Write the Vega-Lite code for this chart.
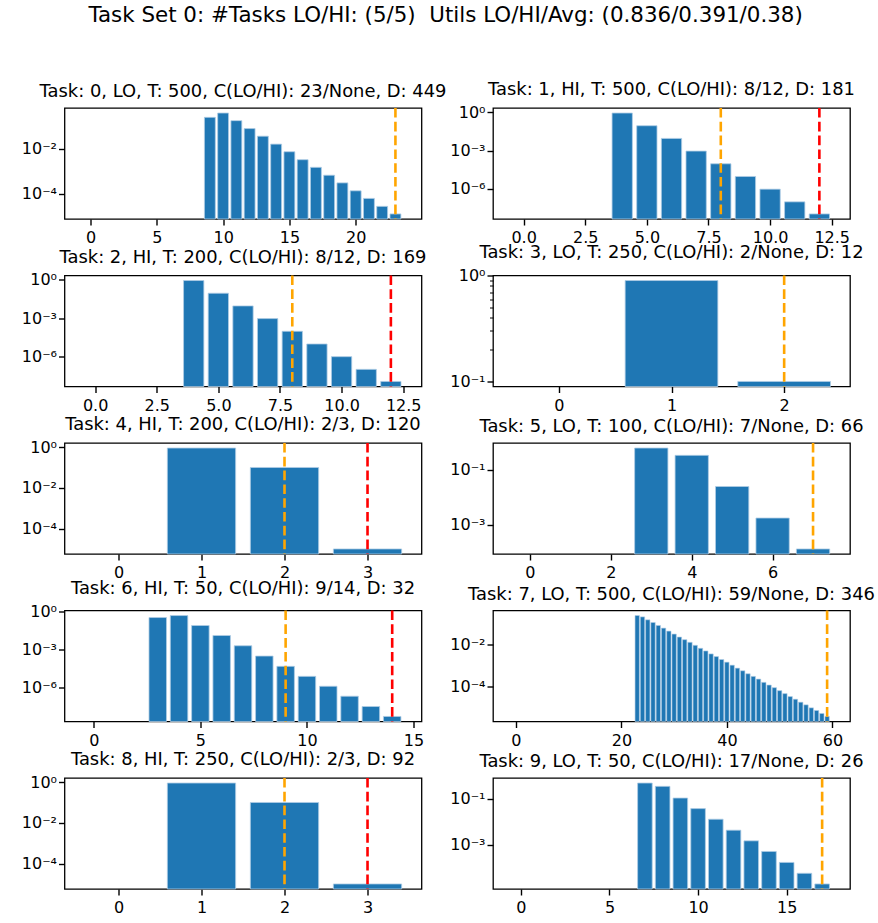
{
  "$schema": "https://vega.github.io/schema/vega-lite/v6.json",
  "padding": {"left": 20.5, "right": 2, "top": 5, "bottom": 5},
  "title": {"text": "Task Set 0: #Tasks LO/HI: (5/5)\u00a0 Utils LO/HI/Avg: (0.836/0.391/0.38)", "fontSize": 21.4, "anchor": "middle", "dx": -2.5, "offset": 37, "baseline": "alphabetic"},
  "columns": 2,
  "bounds": "flush",
  "spacing": {"row": 56.5, "column": 71.5},
  "concat": [
    {
      "title": "Task: 0, LO, T: 500, C(LO/HI): 23/None, D: 449",
      "width": 357, "height": 111,
      "layer": [
        {"data": {"values": [
          {"t": 9, "p": 0.249}, {"t": 10, "p": 0.387}, {"t": 11, "p": 0.178}, {"t": 12, "p": 0.0789}, {"t": 13, "p": 0.0362},
          {"t": 14, "p": 0.0161}, {"t": 15, "p": 0.00738}, {"t": 16, "p": 0.00327}, {"t": 17, "p": 0.0015}, {"t": 18, "p": 0.000667},
          {"t": 19, "p": 0.000305}, {"t": 20, "p": 0.0001355}, {"t": 21, "p": 6.22e-5}, {"t": 22, "p": 2.76e-5}, {"t": 23, "p": 1.27e-5}]},
         "mark": {"type": "bar", "orient": "vertical", "width": 10.9, "color": "#1f77b4", "stroke": "#b0cde5", "strokeWidth": 0.8},
         "encoding": {
           "x": {"field": "t", "type": "quantitative", "scale": {"domain": [-1.59, 24.59], "nice": false, "zero": false}, "axis": {"values": [0, 5, 10, 15, 20], "format": "d", "title": null}},
           "y": {"field": "p", "type": "quantitative", "stack": null, "scale": {"type": "log", "domain": [7.57e-6, 0.6486], "nice": false}, "axis": {"values": [0.01, 0.0001], "title": null, "labelExpr": "datum.value == 1 ? '10⁰' : datum.value == 0.1 ? '10⁻¹' : datum.value == 0.01 ? '10⁻²' : datum.value == 0.001 ? '10⁻³' : datum.value == 0.0001 ? '10⁻⁴' : datum.value == 0.000001 ? '10⁻⁶' : ''"}},
           "y2": {"datum": 7.57e-6}
         }},
        {"data": {"values": [{"c": 23, "level": "LO"}]},
         "mark": {"type": "rule", "strokeDash": [9.6, 4.2], "strokeWidth": 2.6},
         "encoding": {"x": {"field": "c", "type": "quantitative"}, "color": {"field": "level", "type": "nominal", "scale": {"domain": ["LO", "HI"], "range": ["#FFA500", "#FF0000"]}, "legend": null}}}
      ]
    },
    {
      "title": "Task: 1, HI, T: 500, C(LO/HI): 8/12, D: 181",
      "width": 357, "height": 111,
      "layer": [
        {"data": {"values": [
          {"t": 4, "p": 0.9}, {"t": 5, "p": 0.09}, {"t": 6, "p": 0.009}, {"t": 7, "p": 0.0009}, {"t": 8, "p": 9e-5},
          {"t": 9, "p": 9e-6}, {"t": 10, "p": 9e-7}, {"t": 11, "p": 9e-8}, {"t": 12, "p": 1e-8}]},
         "mark": {"type": "bar", "orient": "vertical", "width": 20.3, "color": "#1f77b4", "stroke": "#b0cde5", "strokeWidth": 0.8},
         "encoding": {
           "x": {"field": "t", "type": "quantitative", "scale": {"domain": [-1.04, 13.04], "nice": false, "zero": false}, "axis": {"values": [0, 2.5, 5, 7.5, 10, 12.5], "format": ".1f", "title": null}},
           "y": {"field": "p", "type": "quantitative", "stack": null, "scale": {"type": "log", "domain": [4.0e-9, 2.249], "nice": false}, "axis": {"values": [1, 0.001, 0.000001], "title": null, "labelExpr": "datum.value == 1 ? '10⁰' : datum.value == 0.1 ? '10⁻¹' : datum.value == 0.01 ? '10⁻²' : datum.value == 0.001 ? '10⁻³' : datum.value == 0.0001 ? '10⁻⁴' : datum.value == 0.000001 ? '10⁻⁶' : ''"}},
           "y2": {"datum": 4.0e-9}
         }},
        {"data": {"values": [{"c": 8, "level": "LO"}, {"c": 12, "level": "HI"}]},
         "mark": {"type": "rule", "strokeDash": [9.6, 4.2], "strokeWidth": 2.6},
         "encoding": {"x": {"field": "c", "type": "quantitative"}, "color": {"field": "level", "type": "nominal", "scale": {"domain": ["LO", "HI"], "range": ["#FFA500", "#FF0000"]}, "legend": null}}}
      ]
    },
    {
      "title": "Task: 2, HI, T: 200, C(LO/HI): 8/12, D: 169",
      "width": 357, "height": 111,
      "layer": [
        {"data": {"values": [
          {"t": 4, "p": 0.9}, {"t": 5, "p": 0.09}, {"t": 6, "p": 0.009}, {"t": 7, "p": 0.0009}, {"t": 8, "p": 9e-5},
          {"t": 9, "p": 9e-6}, {"t": 10, "p": 9e-7}, {"t": 11, "p": 9e-8}, {"t": 12, "p": 1e-8}]},
         "mark": {"type": "bar", "orient": "vertical", "width": 20.3, "color": "#1f77b4", "stroke": "#b0cde5", "strokeWidth": 0.8},
         "encoding": {
           "x": {"field": "t", "type": "quantitative", "scale": {"domain": [-1.04, 13.04], "nice": false, "zero": false}, "axis": {"values": [0, 2.5, 5, 7.5, 10, 12.5], "format": ".1f", "title": null}},
           "y": {"field": "p", "type": "quantitative", "stack": null, "scale": {"type": "log", "domain": [4.0e-9, 2.249], "nice": false}, "axis": {"values": [1, 0.001, 0.000001], "title": null, "labelExpr": "datum.value == 1 ? '10⁰' : datum.value == 0.1 ? '10⁻¹' : datum.value == 0.01 ? '10⁻²' : datum.value == 0.001 ? '10⁻³' : datum.value == 0.0001 ? '10⁻⁴' : datum.value == 0.000001 ? '10⁻⁶' : ''"}},
           "y2": {"datum": 4.0e-9}
         }},
        {"data": {"values": [{"c": 8, "level": "LO"}, {"c": 12, "level": "HI"}]},
         "mark": {"type": "rule", "strokeDash": [9.6, 4.2], "strokeWidth": 2.6},
         "encoding": {"x": {"field": "c", "type": "quantitative"}, "color": {"field": "level", "type": "nominal", "scale": {"domain": ["LO", "HI"], "range": ["#FFA500", "#FF0000"]}, "legend": null}}}
      ]
    },
    {
      "title": "Task: 3, LO, T: 250, C(LO/HI): 2/None, D: 12",
      "width": 357, "height": 111,
      "layer": [
        {"data": {"values": [{"t": 1, "p": 0.9}, {"t": 2, "p": 0.1}]},
         "mark": {"type": "bar", "orient": "vertical", "width": 92.7, "color": "#1f77b4", "stroke": "#b0cde5", "strokeWidth": 0.8},
         "encoding": {
           "x": {"field": "t", "type": "quantitative", "scale": {"domain": [-0.54, 2.54], "nice": false, "zero": false}, "axis": {"values": [0, 1, 2], "format": "d", "title": null}},
           "y": {"field": "p", "type": "quantitative", "stack": null, "scale": {"type": "log", "domain": [0.0896, 1.0044], "nice": false}, "axis": {"values": [0.1, 0.2, 0.3, 0.4, 0.5, 0.6, 0.7, 0.8, 0.9, 1], "title": null,
             "tickSize": {"condition": {"test": "datum.value == 1 || datum.value == 0.1", "value": 6}, "value": 3.5},
             "tickWidth": {"condition": {"test": "datum.value == 1 || datum.value == 0.1", "value": 1.4}, "value": 1},
             "labelExpr": "datum.value == 1 ? '10⁰' : datum.value == 0.1 ? '10⁻¹' : ''"}},
           "y2": {"datum": 0.0896}
         }},
        {"data": {"values": [{"c": 2, "level": "LO"}]},
         "mark": {"type": "rule", "strokeDash": [9.6, 4.2], "strokeWidth": 2.6},
         "encoding": {"x": {"field": "c", "type": "quantitative"}, "color": {"field": "level", "type": "nominal", "scale": {"domain": ["LO", "HI"], "range": ["#FFA500", "#FF0000"]}, "legend": null}}}
      ]
    },
    {
      "title": "Task: 4, HI, T: 200, C(LO/HI): 2/3, D: 120",
      "width": 357, "height": 111,
      "layer": [
        {"data": {"values": [{"t": 1, "p": 0.9}, {"t": 2, "p": 0.09999}, {"t": 3, "p": 1e-5}]},
         "mark": {"type": "bar", "orient": "vertical", "width": 68.3, "color": "#1f77b4", "stroke": "#b0cde5", "strokeWidth": 0.8},
         "encoding": {
           "x": {"field": "t", "type": "quantitative", "scale": {"domain": [-0.59, 3.59], "nice": false, "zero": false}, "axis": {"values": [0, 1, 2, 3], "format": "d", "title": null}},
           "y": {"field": "p", "type": "quantitative", "stack": null, "scale": {"type": "log", "domain": [5.654e-6, 1.592], "nice": false}, "axis": {"values": [1, 0.01, 0.0001], "title": null, "labelExpr": "datum.value == 1 ? '10⁰' : datum.value == 0.1 ? '10⁻¹' : datum.value == 0.01 ? '10⁻²' : datum.value == 0.001 ? '10⁻³' : datum.value == 0.0001 ? '10⁻⁴' : datum.value == 0.000001 ? '10⁻⁶' : ''"}},
           "y2": {"datum": 5.654e-6}
         }},
        {"data": {"values": [{"c": 2, "level": "LO"}, {"c": 3, "level": "HI"}]},
         "mark": {"type": "rule", "strokeDash": [9.6, 4.2], "strokeWidth": 2.6},
         "encoding": {"x": {"field": "c", "type": "quantitative"}, "color": {"field": "level", "type": "nominal", "scale": {"domain": ["LO", "HI"], "range": ["#FFA500", "#FF0000"]}, "legend": null}}}
      ]
    },
    {
      "title": "Task: 5, LO, T: 100, C(LO/HI): 7/None, D: 66",
      "width": 357, "height": 111,
      "layer": [
        {"data": {"values": [{"t": 3, "p": 0.63}, {"t": 4, "p": 0.341}, {"t": 5, "p": 0.0248}, {"t": 6, "p": 0.00175}, {"t": 7, "p": 0.00013}]},
         "mark": {"type": "bar", "orient": "vertical", "width": 33.3, "color": "#1f77b4", "stroke": "#b0cde5", "strokeWidth": 0.8},
         "encoding": {
           "x": {"field": "t", "type": "quantitative", "scale": {"domain": [-0.79, 7.79], "nice": false, "zero": false}, "axis": {"values": [0, 2, 4, 6], "format": "d", "title": null}},
           "y": {"field": "p", "type": "quantitative", "stack": null, "scale": {"type": "log", "domain": [8.51e-5, 0.9629], "nice": false}, "axis": {"values": [0.1, 0.001], "title": null, "labelExpr": "datum.value == 1 ? '10⁰' : datum.value == 0.1 ? '10⁻¹' : datum.value == 0.01 ? '10⁻²' : datum.value == 0.001 ? '10⁻³' : datum.value == 0.0001 ? '10⁻⁴' : datum.value == 0.000001 ? '10⁻⁶' : ''"}},
           "y2": {"datum": 8.51e-5}
         }},
        {"data": {"values": [{"c": 7, "level": "LO"}]},
         "mark": {"type": "rule", "strokeDash": [9.6, 4.2], "strokeWidth": 2.6},
         "encoding": {"x": {"field": "c", "type": "quantitative"}, "color": {"field": "level", "type": "nominal", "scale": {"domain": ["LO", "HI"], "range": ["#FFA500", "#FF0000"]}, "legend": null}}}
      ]
    },
    {
      "title": "Task: 6, HI, T: 50, C(LO/HI): 9/14, D: 32",
      "width": 357, "height": 111,
      "layer": [
        {"data": {"values": [
          {"t": 3, "p": 0.359}, {"t": 4, "p": 0.515}, {"t": 5, "p": 0.0845}, {"t": 6, "p": 0.0138}, {"t": 7, "p": 0.00214}, {"t": 8, "p": 0.00033},
          {"t": 9, "p": 5.1e-5}, {"t": 10, "p": 8.3e-6}, {"t": 11, "p": 1.37e-6}, {"t": 12, "p": 2.24e-7}, {"t": 13, "p": 3.46e-8}, {"t": 14, "p": 5.7e-9}]},
         "mark": {"type": "bar", "orient": "vertical", "width": 17.5, "color": "#1f77b4", "stroke": "#b0cde5", "strokeWidth": 0.8},
         "encoding": {
           "x": {"field": "t", "type": "quantitative", "scale": {"domain": [-1.14, 15.14], "nice": false, "zero": false}, "axis": {"values": [0, 5, 10, 15], "format": "d", "title": null}},
           "y": {"field": "p", "type": "quantitative", "stack": null, "scale": {"type": "log", "domain": [2.28e-9, 1.288], "nice": false}, "axis": {"values": [1, 0.001, 0.000001], "title": null, "labelExpr": "datum.value == 1 ? '10⁰' : datum.value == 0.1 ? '10⁻¹' : datum.value == 0.01 ? '10⁻²' : datum.value == 0.001 ? '10⁻³' : datum.value == 0.0001 ? '10⁻⁴' : datum.value == 0.000001 ? '10⁻⁶' : ''"}},
           "y2": {"datum": 2.28e-9}
         }},
        {"data": {"values": [{"c": 9, "level": "LO"}, {"c": 14, "level": "HI"}]},
         "mark": {"type": "rule", "strokeDash": [9.6, 4.2], "strokeWidth": 2.6},
         "encoding": {"x": {"field": "c", "type": "quantitative"}, "color": {"field": "level", "type": "nominal", "scale": {"domain": ["LO", "HI"], "range": ["#FFA500", "#FF0000"]}, "legend": null}}}
      ]
    },
    {
      "title": "Task: 7, LO, T: 500, C(LO/HI): 59/None, D: 346",
      "width": 357, "height": 111,
      "layer": [
        {"data": {"values": [
          {"t": 23, "p": 2.51e-1}, {"t": 24, "p": 2.16e-1}, {"t": 25, "p": 1.56e-1}, {"t": 26, "p": 1.16e-1}, {"t": 27, "p": 8.36e-2},
          {"t": 28, "p": 6.24e-2}, {"t": 29, "p": 4.49e-2}, {"t": 30, "p": 3.24e-2}, {"t": 31, "p": 2.33e-2}, {"t": 32, "p": 1.74e-2},
          {"t": 33, "p": 1.30e-2}, {"t": 34, "p": 9.33e-3}, {"t": 35, "p": 6.71e-3}, {"t": 36, "p": 5.01e-3}, {"t": 37, "p": 3.61e-3},
          {"t": 38, "p": 2.69e-3}, {"t": 39, "p": 1.94e-3}, {"t": 40, "p": 1.45e-3}, {"t": 41, "p": 1.04e-3}, {"t": 42, "p": 7.50e-4},
          {"t": 43, "p": 5.60e-4}, {"t": 44, "p": 4.03e-4}, {"t": 45, "p": 3.01e-4}, {"t": 46, "p": 2.24e-4}, {"t": 47, "p": 1.56e-4},
          {"t": 48, "p": 1.16e-4}, {"t": 49, "p": 8.67e-5}, {"t": 50, "p": 6.24e-5}, {"t": 51, "p": 4.49e-5}, {"t": 52, "p": 3.24e-5},
          {"t": 53, "p": 2.42e-5}, {"t": 54, "p": 1.74e-5}, {"t": 55, "p": 1.30e-5}, {"t": 56, "p": 9.33e-6}, {"t": 57, "p": 6.97e-6},
          {"t": 58, "p": 5.01e-6}, {"t": 59, "p": 3.61e-6}]},
         "mark": {"type": "bar", "orient": "vertical", "width": 4.34, "color": "#1f77b4", "stroke": "#b0cde5", "strokeWidth": 0.6},
         "encoding": {
           "x": {"field": "t", "type": "quantitative", "scale": {"domain": [-3.39, 62.39], "nice": false, "zero": false}, "axis": {"values": [0, 20, 40, 60], "format": "d", "title": null}},
           "y": {"field": "p", "type": "quantitative", "stack": null, "scale": {"type": "log", "domain": [2.065e-6, 0.4375], "nice": false}, "axis": {"values": [0.01, 0.0001], "title": null, "labelExpr": "datum.value == 1 ? '10⁰' : datum.value == 0.1 ? '10⁻¹' : datum.value == 0.01 ? '10⁻²' : datum.value == 0.001 ? '10⁻³' : datum.value == 0.0001 ? '10⁻⁴' : datum.value == 0.000001 ? '10⁻⁶' : ''"}},
           "y2": {"datum": 2.065e-6}
         }},
        {"data": {"values": [{"c": 59, "level": "LO"}]},
         "mark": {"type": "rule", "strokeDash": [9.6, 4.2], "strokeWidth": 2.6},
         "encoding": {"x": {"field": "c", "type": "quantitative"}, "color": {"field": "level", "type": "nominal", "scale": {"domain": ["LO", "HI"], "range": ["#FFA500", "#FF0000"]}, "legend": null}}}
      ]
    },
    {
      "title": "Task: 8, HI, T: 250, C(LO/HI): 2/3, D: 92",
      "width": 357, "height": 111,
      "layer": [
        {"data": {"values": [{"t": 1, "p": 0.9}, {"t": 2, "p": 0.09999}, {"t": 3, "p": 1e-5}]},
         "mark": {"type": "bar", "orient": "vertical", "width": 68.3, "color": "#1f77b4", "stroke": "#b0cde5", "strokeWidth": 0.8},
         "encoding": {
           "x": {"field": "t", "type": "quantitative", "scale": {"domain": [-0.59, 3.59], "nice": false, "zero": false}, "axis": {"values": [0, 1, 2, 3], "format": "d", "title": null}},
           "y": {"field": "p", "type": "quantitative", "stack": null, "scale": {"type": "log", "domain": [5.654e-6, 1.592], "nice": false}, "axis": {"values": [1, 0.01, 0.0001], "title": null, "labelExpr": "datum.value == 1 ? '10⁰' : datum.value == 0.1 ? '10⁻¹' : datum.value == 0.01 ? '10⁻²' : datum.value == 0.001 ? '10⁻³' : datum.value == 0.0001 ? '10⁻⁴' : datum.value == 0.000001 ? '10⁻⁶' : ''"}},
           "y2": {"datum": 5.654e-6}
         }},
        {"data": {"values": [{"c": 2, "level": "LO"}, {"c": 3, "level": "HI"}]},
         "mark": {"type": "rule", "strokeDash": [9.6, 4.2], "strokeWidth": 2.6},
         "encoding": {"x": {"field": "c", "type": "quantitative"}, "color": {"field": "level", "type": "nominal", "scale": {"domain": ["LO", "HI"], "range": ["#FFA500", "#FF0000"]}, "legend": null}}}
      ]
    },
    {
      "title": "Task: 9, LO, T: 50, C(LO/HI): 17/None, D: 26",
      "width": 357, "height": 111,
      "layer": [
        {"data": {"values": [
          {"t": 7, "p": 0.497}, {"t": 8, "p": 0.356}, {"t": 9, "p": 0.11}, {"t": 10, "p": 0.038}, {"t": 11, "p": 0.0131}, {"t": 12, "p": 0.00434},
          {"t": 13, "p": 0.00149}, {"t": 14, "p": 0.000513}, {"t": 15, "p": 0.00017}, {"t": 16, "p": 5.7e-5}, {"t": 17, "p": 1.95e-5}]},
         "mark": {"type": "bar", "orient": "vertical", "width": 14.6, "color": "#1f77b4", "stroke": "#b0cde5", "strokeWidth": 0.8},
         "encoding": {
           "x": {"field": "t", "type": "quantitative", "scale": {"domain": [-1.29, 18.29], "nice": false, "zero": false}, "axis": {"values": [0, 5, 10, 15], "format": "d", "title": null}},
           "y": {"field": "p", "type": "quantitative", "stack": null, "scale": {"type": "log", "domain": [1.175e-5, 0.8254], "nice": false}, "axis": {"values": [0.1, 0.001], "title": null, "labelExpr": "datum.value == 1 ? '10⁰' : datum.value == 0.1 ? '10⁻¹' : datum.value == 0.01 ? '10⁻²' : datum.value == 0.001 ? '10⁻³' : datum.value == 0.0001 ? '10⁻⁴' : datum.value == 0.000001 ? '10⁻⁶' : ''"}},
           "y2": {"datum": 1.175e-5}
         }},
        {"data": {"values": [{"c": 17, "level": "LO"}]},
         "mark": {"type": "rule", "strokeDash": [9.6, 4.2], "strokeWidth": 2.6},
         "encoding": {"x": {"field": "c", "type": "quantitative"}, "color": {"field": "level", "type": "nominal", "scale": {"domain": ["LO", "HI"], "range": ["#FFA500", "#FF0000"]}, "legend": null}}}
      ]
    }
  ],
  "config": {
    "font": "DejaVu Sans",
    "background": "white",
    "view": {"stroke": "#000", "strokeWidth": 1.3},
    "title": {"font": "DejaVu Sans", "fontSize": 17.9, "fontWeight": "normal", "color": "#000", "baseline": "alphabetic", "offset": 5.5},
    "axis": {"domain": false, "grid": false, "ticks": true, "tickColor": "#000", "tickSize": 6, "tickWidth": 1.4, "labelColor": "#000", "labelFont": "DejaVu Sans", "labelFontSize": 16, "labelOverlap": false, "labelBound": false},
    "axisX": {"labelFlush": false, "labelPadding": 4.5},
    "axisY": {"labelPadding": 2}
  }
}
